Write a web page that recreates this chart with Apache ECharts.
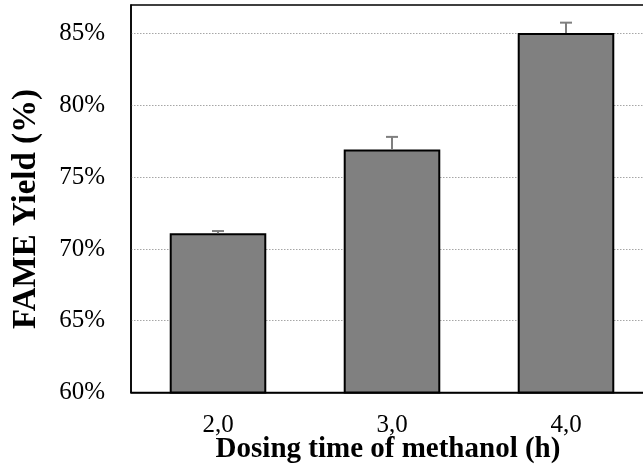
<!DOCTYPE html>
<html>
<head>
<meta charset="utf-8">
<script src="https://cdn.jsdelivr.net/npm/echarts@6/dist/echarts.min.js"></script>
<style>
html,body{margin:0;padding:0;background:#fff;overflow:hidden;width:643px;height:468px;}
#c{width:653px;height:468px;}
</style>
</head>
<body>
<div id="c"></div>
<script>
var categories = ['2,0', '3,0', '4,0'];
var yieldValues = [71.1, 76.93, 85.05];
var yieldErrors = [0.15, 0.88, 0.72];
var yTicks = [60, 65, 70, 75, 80, 85];

var chart = echarts.init(document.getElementById('c'), null, {renderer: 'canvas'});
var serif = '"Liberation Serif", "Times New Roman", serif';

var option = {
  animation: false,
  backgroundColor: '#fff',
  grid: {
    left: 131, right: 0, top: 5, bottom: 75.5,
    show: true, borderColor: '#000', borderWidth: 1.5, backgroundColor: 'transparent'
  },
  xAxis: {
    type: 'category',
    data: categories,
    axisLine: {show: true, lineStyle: {color: '#000', width: 1.5}},
    axisTick: {show: false},
    axisLabel: {color: '#000', fontFamily: serif, fontSize: 25, margin: 20}
  },
  yAxis: {
    type: 'value',
    min: 60, max: 87, interval: 5,
    axisLine: {show: true, lineStyle: {color: '#000', width: 1.5}},
    axisTick: {show: false},
    axisLabel: {
      color: '#000', fontFamily: serif, fontSize: 25, margin: 26,
      formatter: function (v) { return yTicks.indexOf(v) >= 0 ? v + '%' : ''; }
    },
    splitLine: {show: true, showMinLine: false, showMaxLine: false,
      lineStyle: {color: '#a6a6a6', type: [1.5, 1.5], width: 1}}
  },
  graphic: [
    {type: 'text', x: 26, y: 209, rotation: Math.PI / 2,
      style: {text: 'FAME Yield (%)', font: 'bold 33px ' + serif, fill: '#000',
        textAlign: 'center', textVerticalAlign: 'middle'}},
    {type: 'text', x: 388, y: 450,
      style: {text: 'Dosing time of methanol (h)', font: 'bold 29px ' + serif, fill: '#000',
        textAlign: 'center', textVerticalAlign: 'middle'}}
  ],
  series: [
    {
      type: 'bar',
      data: yieldValues,
      barWidth: '55.5%',
      itemStyle: {color: '#808080', borderColor: '#000', borderWidth: 2},
      z: 2
    },
    {
      type: 'custom',
      z: 3,
      data: yieldValues.map(function (v, i) { return [i, v, yieldErrors[i]]; }),
      renderItem: function (params, api) {
        var i = api.value(0), v = api.value(1), e = api.value(2);
        var p0 = api.coord([i, v]);
        var p1 = api.coord([i, v + e]);
        var hw = 6;
        var st = {stroke: '#7f7f7f', lineWidth: 2};
        return {
          type: 'group',
          children: [
            {type: 'line', shape: {x1: p0[0], y1: p0[1], x2: p1[0], y2: p1[1]}, style: st},
            {type: 'line', shape: {x1: p1[0] - hw, y1: p1[1], x2: p1[0] + hw, y2: p1[1]}, style: st}
          ]
        };
      }
    }
  ]
};
chart.setOption(option);
</script>
</body>
</html>
